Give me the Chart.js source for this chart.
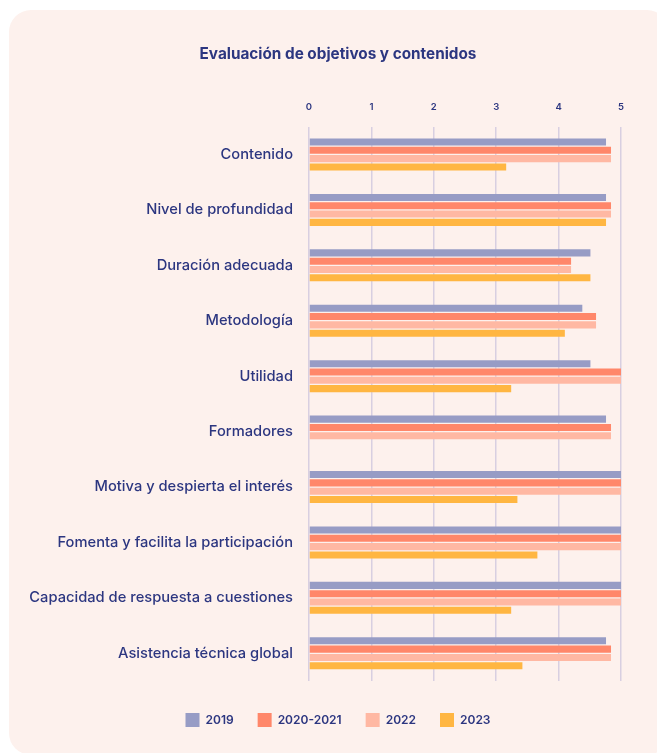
<!DOCTYPE html>
<html>
<head>
<meta charset="utf-8">
<script src="https://cdn.jsdelivr.net/npm/chart.js"></script>
<style>
  html, body { margin: 0; padding: 0; background: #ffffff; overflow: hidden; }
  .card {
    position: absolute; left: 9px; top: 10px; width: 660px; height: 745px;
    background: #fdf1ed; border-radius: 22px;
  }
  .chart-box { position: absolute; left: 9px; top: 10px; width: 658px; height: 743px; }
</style>
</head>
<body>
<div class="card"></div>
<div class="chart-box"><canvas id="evalChart"></canvas></div>

<script>
// Datos del gráfico
const categorias = [
    'Contenido',
    'Nivel de profundidad',
    'Duración adecuada',
    'Metodología',
    'Utilidad',
    'Formadores',
    'Motiva y despierta el interés',
    'Fomenta y facilita la participación',
    'Capacidad de respuesta a cuestiones',
    'Asistencia técnica global'
];
const valores2019 = [4.76, 4.76, 4.51, 4.38, 4.51, 4.76, 5.0, 5.0, 5.0, 4.76];
const valores2020_2021 = [4.84, 4.84, 4.2, 4.6, 5.0, 4.84, 5.0, 5.0, 5.0, 4.84];
const valores2022 = [4.84, 4.84, 4.2, 4.6, 5.0, 4.84, 5.0, 5.0, 5.0, 4.84];
const valores2023 = [3.16, 4.76, 4.51, 4.1, 3.24, null, 3.34, 3.66, 3.24, 3.42];
const ticksEje = [0, 1, 2, 3, 4, 5];

const azulTexto = '#2c3680';

document.addEventListener('DOMContentLoaded', function() {
    const datos = {
        labels: categorias,
        datasets: [
            { label: '2019', data: valores2019, backgroundColor: '#979cc5' },
            { label: '2020-2021', data: valores2020_2021, backgroundColor: '#ff876a' },
            { label: '2022', data: valores2022, backgroundColor: '#ffb8a3' },
            { label: '2023', data: valores2023, backgroundColor: '#ffb642' }
        ]
    };

    const config = {
        type: 'bar',
        data: datos,
        options: {
            indexAxis: 'y',
            responsive: true,
            maintainAspectRatio: false,
            animation: false,
            datasets: {
                bar: {
                    categoryPercentage: 0.6,
                    barPercentage: 0.85,
                    borderWidth: 0
                }
            },
            layout: { padding: { left: 0, right: 0, top: 0, bottom: 16 } },
            plugins: {
                title: {
                    display: true,
                    text: 'Evaluación de objetivos y contenidos',
                    color: azulTexto,
                    font: { family: 'Inter', size: 15.3, weight: 'bold' },
                    padding: { top: 35, bottom: 24 }
                },
                legend: {
                    display: true,
                    position: 'bottom',
                    labels: {
                        boxWidth: 14,
                        boxHeight: 14,
                        padding: 24,
                        color: azulTexto,
                        font: { family: 'Inter', size: 12, weight: '600' }
                    }
                },
                tooltip: { enabled: false }
            },
            scales: {
                x: {
                    position: 'top',
                    min: 0,
                    max: 5,
                    afterBuildTicks: function(scale) {
                        scale.ticks = ticksEje.map(v => ({ value: v }));
                    },
                    grid: {
                        color: '#d8cfe1',
                        lineWidth: 1.5,
                        drawTicks: false
                    },
                    border: { display: false },
                    ticks: {
                        color: azulTexto,
                        padding: 14,
                        font: { family: 'Inter', size: 9.5, weight: '600' }
                    }
                },
                y: {
                    grid: { display: false, drawTicks: false },
                    border: { display: false },
                    afterFit: function(scale) { scale.width = 300; },
                    ticks: {
                        color: azulTexto,
                        padding: 16,
                        font: { family: 'Inter', size: 14.7, weight: '500' }
                    }
                },
                // márgenes vacíos: título y leyenda centrados, hueco sobre la leyenda
                margenDerecho: {
                    type: 'category',
                    position: 'right',
                    grid: { display: false, drawTicks: false },
                    border: { display: false },
                    ticks: { display: false },
                    afterFit: function(scale) { scale.width = 46; }
                },
                margenInferior: {
                    type: 'linear',
                    position: 'bottom',
                    grid: { display: false, drawTicks: false },
                    border: { display: false },
                    ticks: { display: false },
                    afterFit: function(scale) { scale.height = 8; }
                }
            }
        }
    };

    new Chart(document.getElementById('evalChart'), config);
});
</script>
</body>
</html>
